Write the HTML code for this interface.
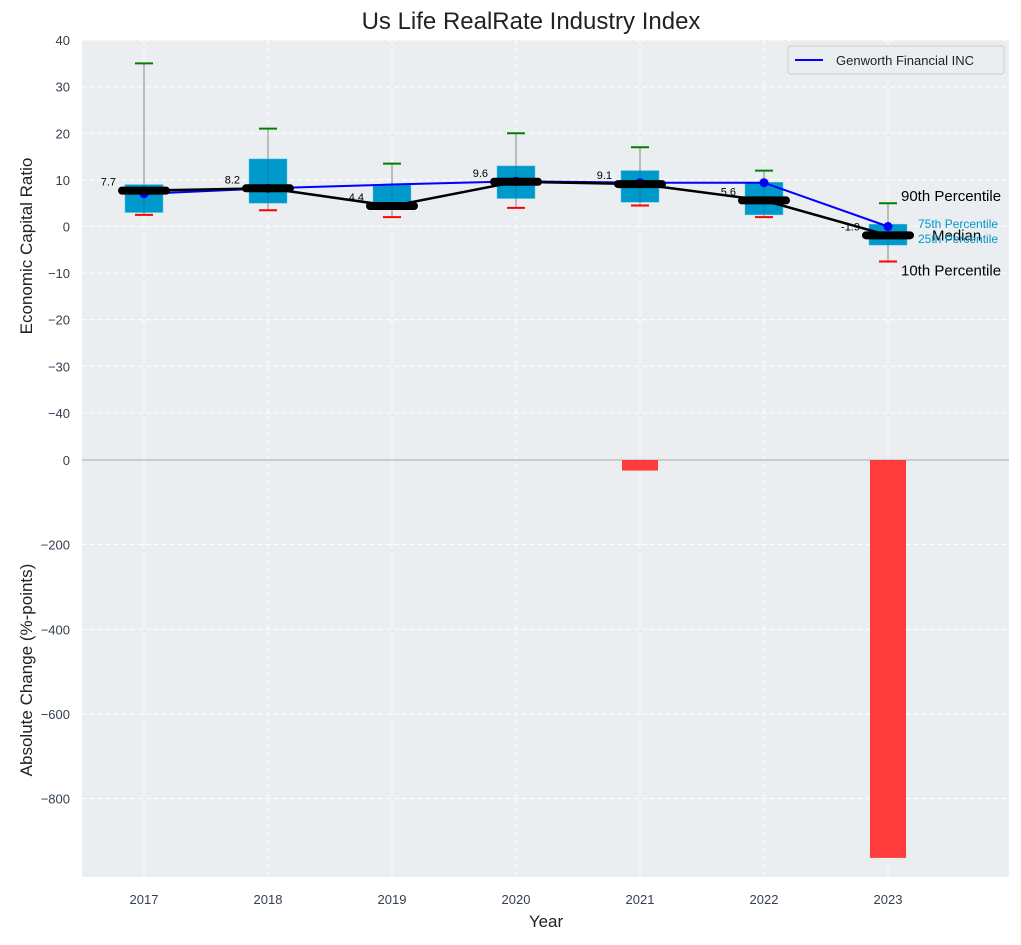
<!DOCTYPE html>
<html><head><meta charset="utf-8"><style>
body{margin:0;background:#fff;font-family:"Liberation Sans",sans-serif}
</style></head><body>
<svg id="c" width="1021" height="940" xmlns="http://www.w3.org/2000/svg" font-family="Liberation Sans, sans-serif"></svg>
<script>
const years=[2017,2018,2019,2020,2021,2022,2023];
const p10=[2.5,3.5,2,4,4.5,2,-7.5];
const p25=[3,5,4,6,5.2,2.5,-4];
const p50=[7.7,8.2,4.4,9.6,9.1,5.6,-1.9];
const p75=[9,14.5,9,13,12,9.5,0.5];
const p90=[35,21,13.5,20,17,12,5];
const genworth=[7,8.2,9,9.7,9.4,9.4,0];
const genworthMarker=[true,true,false,true,true,true,true];
const changes=[0,0,0,0,-25,0,-940];
const topTicks=[40,30,20,10,0,-10,-20,-30,-40];
const botTicks=[0,-200,-400,-600,-800];

const svg=document.getElementById('c');
const NS='http://www.w3.org/2000/svg';
function el(t,a,p){const e=document.createElementNS(NS,t);for(const k in a)e.setAttribute(k,a[k]);(p||svg).appendChild(e);return e;}
const L=82,R=1009;
const X=y=>144+(y-2017)*124;
const YT=v=>226.5-4.66*v;
const YB=v=>460-0.4233*v;

let e;
e=el('rect',{x:L,y:40,width:R-L,height:420,fill:'#eaeef0'});

e=el('rect',{x:L,y:460,width:R-L,height:417,fill:'#eaeef0'});


topTicks.forEach(t=>{
 el('line',{x1:L,x2:R,y1:YT(t),y2:YT(t),stroke:'#fff','stroke-dasharray':'5,3','stroke-width':1});
 e=el('text',{x:70,y:YT(t)+5,'text-anchor':'end','font-size':13,fill:'#333f50'});e.textContent=(t<0?'\u2212'+(-t):t);
 
});
botTicks.forEach(t=>{
 el('line',{x1:L,x2:R,y1:YB(t),y2:YB(t),stroke:'#fff','stroke-dasharray':'5,3','stroke-width':1});
 e=el('text',{x:70,y:YB(t)+5,'text-anchor':'end','font-size':13,fill:'#333f50'});e.textContent=(t<0?'\u2212'+(-t):t);
 
});
years.forEach(y=>{
 el('line',{x1:X(y),x2:X(y),y1:40,y2:877,stroke:'#fff','stroke-dasharray':'5,3','stroke-width':1});
 e=el('text',{x:X(y),y:904,'text-anchor':'middle','font-size':13,fill:'#333f50'});e.textContent=y;
 
});
el('line',{x1:L,x2:R,y1:460,y2:460,stroke:'#aaa','stroke-width':1});

years.forEach((y,i)=>{
 const x=X(y);
 e=el('line',{x1:x,x2:x,y1:YT(p90[i]),y2:YT(p10[i]),stroke:'#888','stroke-width':1});
 
 e=el('rect',{x:x-19,y:YT(p75[i]),width:38,height:YT(p25[i])-YT(p75[i]),fill:'#0099cc',stroke:'#5bc0de','stroke-width':0.5});
 
 el('line',{x1:x,x2:x,y1:YT(p75[i]),y2:YT(p25[i]),stroke:'#336','stroke-width':0.6,opacity:0.5});
 e=el('line',{x1:x-9,x2:x+9,y1:YT(p90[i]),y2:YT(p90[i]),stroke:'green','stroke-width':2});
 
 e=el('line',{x1:x-9,x2:x+9,y1:YT(p10[i]),y2:YT(p10[i]),stroke:'red','stroke-width':2});
 
 if(changes[i]!==0){
  e=el('rect',{x:x-18,y:YB(0),width:36,height:YB(changes[i])-YB(0),fill:'#ff3b3b'});
  
 }
});
e=el('polyline',{points:years.map((y,i)=>X(y)+','+YT(genworth[i])).join(' '),fill:'none',stroke:'#0000ff','stroke-width':2});

years.forEach((y,i)=>{if(!genworthMarker[i])return;e=el('circle',{cx:X(y),cy:YT(genworth[i]),r:4.5,fill:'#0000ff'});
 });
e=el('polyline',{points:years.map((y,i)=>X(y)+','+YT(p50[i])).join(' '),fill:'none',stroke:'#000','stroke-width':2.5});

years.forEach((y,i)=>{
 e=el('line',{x1:X(y)-22,x2:X(y)+22,y1:YT(p50[i]),y2:YT(p50[i]),stroke:'#000','stroke-width':8,'stroke-linecap':'round'});
 
 e=el('text',{x:X(y)-28,y:YT(p50[i])-5,'text-anchor':'end','font-size':11,fill:'#000'});e.textContent=p50[i];
 
});
[[p90[6],'90th Percentile',15,'#000',901,-2],[p10[6],'10th Percentile',15,'#000',901,14],[p50[6],'Median',15,'#000',932,5],[p75[6],'75th Percentile',12,'#0099cc',918,4],[p25[6],'25th Percentile',12,'#0099cc',918,-2]].forEach(a=>{
 e=el('text',{x:a[4],y:YT(a[0])+a[5],'font-size':a[2],fill:a[3]});e.textContent=a[1];
 
});
e=el('rect',{x:788,y:46,width:216,height:28,fill:'#eaeef0',stroke:'#ccc',rx:3});

el('line',{x1:795,x2:823,y1:60,y2:60,stroke:'#0000ff','stroke-width':2});
e=el('text',{x:836,y:65,'font-size':13,fill:'#222'});e.textContent='Genworth Financial INC';

e=el('text',{x:531,y:29,'text-anchor':'middle','font-size':24,fill:'#222'});e.textContent='Us Life RealRate Industry Index';

e=el('text',{x:546,y:927,'text-anchor':'middle','font-size':17,fill:'#222'});e.textContent='Year';

e=el('text',{x:0,y:0,'text-anchor':'middle','font-size':17,fill:'#222',transform:'translate(32,246) rotate(-90)'});e.textContent='Economic Capital Ratio';

e=el('text',{x:0,y:0,'text-anchor':'middle','font-size':17,fill:'#222',transform:'translate(32,670) rotate(-90)'});e.textContent='Absolute Change (%-points)';

</script>
</body></html>
